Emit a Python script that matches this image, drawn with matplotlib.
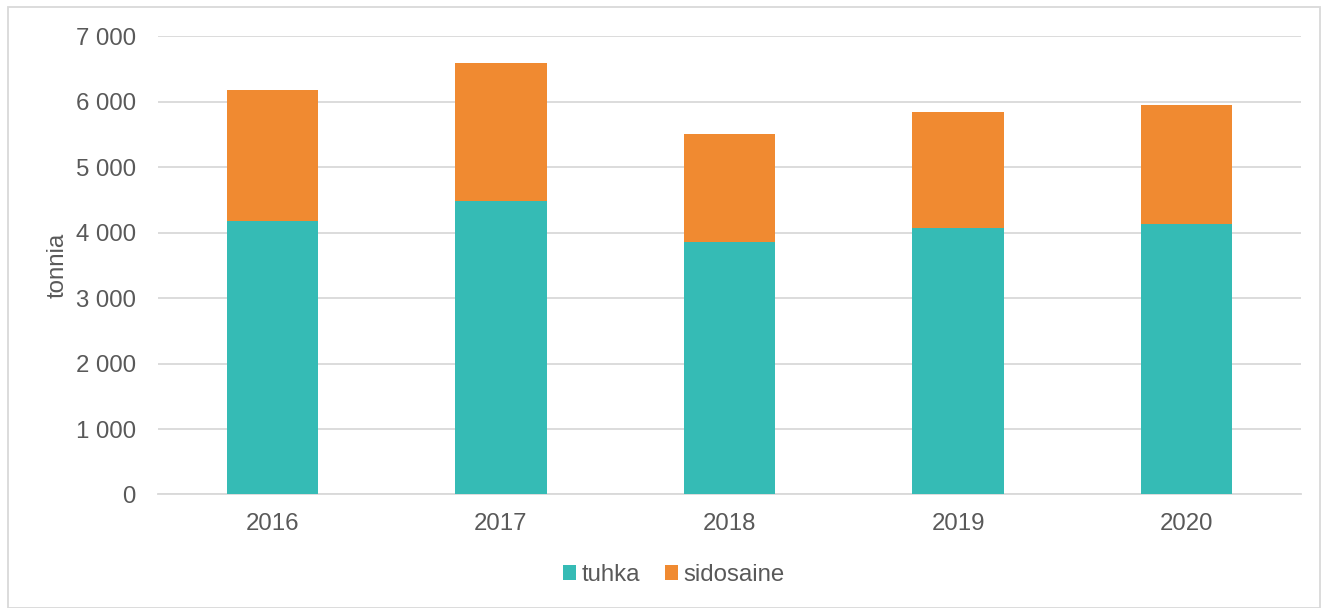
import matplotlib.pyplot as plt
from matplotlib.patches import Rectangle
from matplotlib.ticker import FuncFormatter
import numpy as np

plt.rcParams['font.family'] = ['Liberation Sans', 'DejaVu Sans']

# vuodet ja määrät (tonnia)
years = ['2016', '2017', '2018', '2019', '2020']
tuhka = [4186, 4491, 3855, 4073, 4130]
sidosaine = [2000, 2109, 1659, 1767, 1817]

teal = '#35BBB5'
orange = '#F08A31'
text_col = '#595959'
fs = 17.3

fig = plt.figure(figsize=(13.28, 6.08), dpi=100)
ax = fig.add_axes([0.119, 0.1867, 0.8607, 0.7533])

x = np.arange(len(years))
ax.bar(x, tuhka, width=0.4, color=teal, label='tuhka', zorder=3)
ax.bar(x, sidosaine, width=0.4, bottom=tuhka, color=orange, label='sidosaine', zorder=3)

ax.set_xlim(-0.5, len(years) - 0.5)
ax.set_ylim(0, 7000)
ax.set_yticks(range(0, 7001, 1000))
ax.yaxis.set_major_formatter(FuncFormatter(lambda v, p: f"{v:,.0f}".replace(",", " ")))
ax.set_xticks(x)
ax.set_xticklabels(years)

ax.grid(axis='y', color='#D9D9D9', linewidth=1.3, zorder=0)
for s in ['top', 'right', 'left']:
    ax.spines[s].set_visible(False)
ax.spines['bottom'].set_color('#D9D9D9')
ax.spines['bottom'].set_linewidth(1.3)
ax.tick_params(axis='both', length=0, labelsize=fs, colors=text_col)
ax.tick_params(axis='y', pad=16)
ax.tick_params(axis='x', pad=13)

ax.set_ylabel('tonnia', fontsize=fs, color=text_col, labelpad=5)

fig.legend(loc='center', bbox_to_anchor=(674 / 1328, 1 - 575 / 608), ncol=2,
           frameon=False, fontsize=fs, labelcolor=text_col,
           handlelength=0.55, handleheight=0.55, handletextpad=0.25, columnspacing=1.0)

# kehys
fig.patches.append(Rectangle((8 / 1328, 0), 1 - 16 / 1328, 1 - 7 / 608, transform=fig.transFigure,
                             fill=False, edgecolor='#D9D9D9', linewidth=1.3))

fig.savefig('out.png', dpi=100)
